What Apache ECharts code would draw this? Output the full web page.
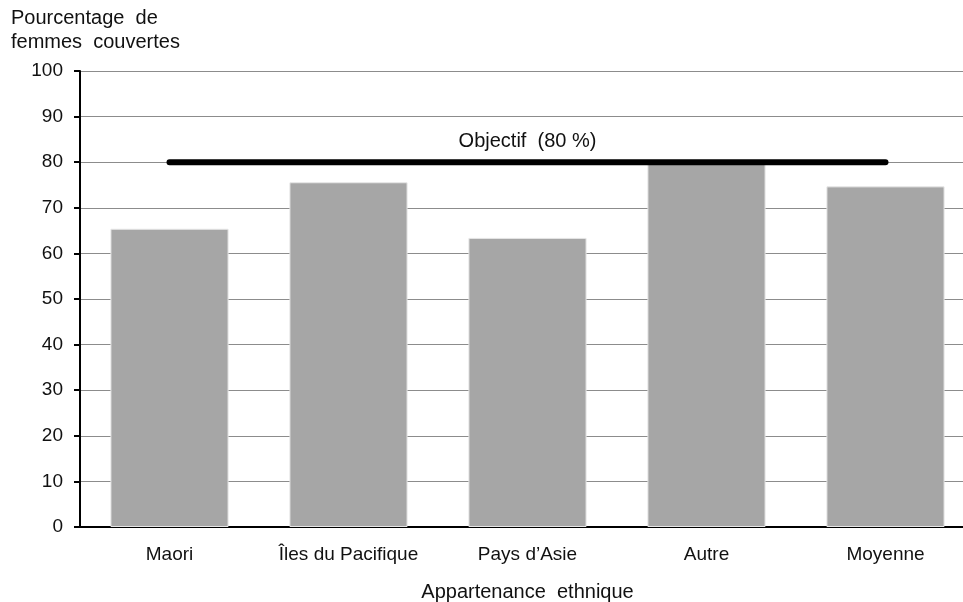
<!DOCTYPE html>
<html>
<head>
<meta charset="utf-8">
<script src="https://cdn.jsdelivr.net/npm/echarts@6/dist/echarts.min.js"></script>
<style>
  html, body { margin: 0; padding: 0; background: #fff; }
  #chart { width: 963px; height: 602px; }
</style>
</head>
<body>
<div id="chart"></div>
<script>
// Couverture par appartenance ethnique
const categories = ['Maori', 'Îles du Pacifique', 'Pays d\u2019Asie', 'Autre', 'Moyenne'];
const coverage = [65.4, 75.6, 63.4, 79.7, 74.7];
const target = [80, 80, 80, 80, 80];
const targetLabel = 'Objectif  (80 %)';
const targetLabelIndex = 2;
const yTicks = [0, 10, 20, 30, 40, 50, 60, 70, 80, 90, 100];

const font = 'Liberation Sans, Arial, sans-serif';
const chart = echarts.init(document.getElementById('chart'));

chart.setOption({
  animation: false,
  backgroundColor: '#fff',
  textStyle: { fontFamily: font },
  title: {
    text: 'Pourcentage  de\nfemmes  couvertes',
    left: 11,
    top: 6,
    padding: 0,
    textStyle: { fontFamily: font, fontSize: 20, fontWeight: 'normal', color: '#111', lineHeight: 24 }
  },
  grid: { left: 80, top: 71, width: 895, height: 456, outerBoundsMode: 'none' },
  xAxis: {
    type: 'category',
    data: categories,
    name: 'Appartenance  ethnique',
    nameLocation: 'middle',
    nameGap: 55,
    nameTextStyle: { fontFamily: font, fontSize: 20, color: '#111', verticalAlign: 'top' },
    axisLine: { lineStyle: { color: '#000', width: 2 } },
    axisTick: { show: false },
    axisLabel: { fontFamily: font, fontSize: 19, color: '#111', margin: 18, interval: 0, hideOverlap: false }
  },
  yAxis: {
    type: 'value',
    min: yTicks[0],
    max: yTicks[yTicks.length - 1],
    interval: 10,
    axisLine: { show: true, lineStyle: { color: '#000', width: 2 } },
    axisTick: { show: true, length: 6, lineStyle: { color: '#000', width: 2 } },
    axisLabel: { fontFamily: font, fontSize: 19, color: '#111', margin: 17 },
    splitLine: { show: true, lineStyle: { color: '#8c8c8c', width: 1 } }
  },
  series: [
    {
      type: 'bar',
      data: coverage,
      barCategoryGap: '34%',
      itemStyle: { color: '#a6a6a6', borderColor: '#e6e6e6', borderWidth: 1 },
      z: 2
    },
    {
      // objective line, 80 %
      type: 'line',
      data: target,
      symbol: 'circle',
      symbolSize: 1,
      showSymbol: true,
      itemStyle: { color: '#000' },
      lineStyle: { color: '#000', width: 6, cap: 'round' },
      label: {
        show: true,
        position: 'top',
        distance: 10,
        offset: [-3, 0],
        fontFamily: font,
        fontSize: 20,
        color: '#111',
        formatter: p => (p.dataIndex === targetLabelIndex ? targetLabel : '')
      },
      labelLayout: { hideOverlap: false },
      z: 3
    }
  ]
});
</script>
</body>
</html>
